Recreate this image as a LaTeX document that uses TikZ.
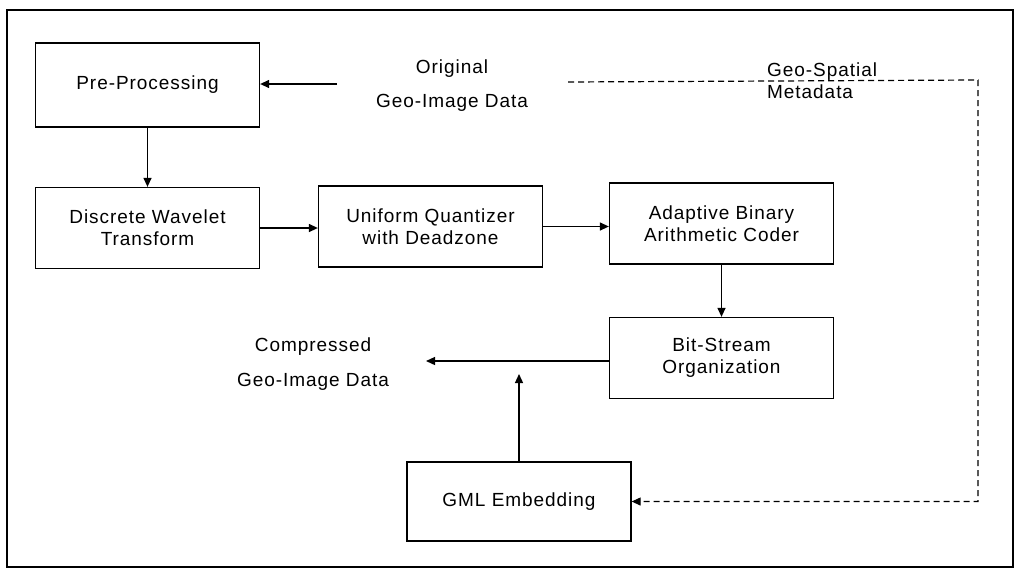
\documentclass[tikz,border=0pt]{standalone}
\usepackage{fontspec}
\setmainfont{Liberation Sans}[LetterSpace=5]
\usetikzlibrary{arrows.meta}
\begin{document}
\begin{tikzpicture}[x=1pt, y=-1pt,
  font=\fontsize{19}{22}\selectfont,
  box/.style={draw, line width=1.3pt, minimum width=224pt, minimum height=81pt,
              align=center, inner sep=0pt},
  lbl/.style={align=center, inner sep=0pt},
  arr/.style={line width=1.3pt, -{Triangle[length=9pt,width=8pt]}},
  meta/.style={line width=1.2pt, dash pattern=on 6pt off 4pt,
               -{Triangle[length=9pt,width=8pt]}}]
  \useasboundingbox (0,0) rectangle (1016,574);
  % outer frame
  \draw[line width=1.3pt] (7,10) rectangle (1013,567);

  % processing blocks
  \node[box, minimum height=84pt] (pre)  at (147.5,85)    {Pre-Processing};
  \node[box] (dwt)  at (147.5,228)   {Discrete Wavelet\\Transform};
  \node[box] (uq)   at (430.5,226.5) {Uniform Quantizer\\with Deadzone};
  \node[box] (abac) at (721.5,223.5) {Adaptive Binary\\Arithmetic Coder};
  \node[box] (bs)   at (721.5,358)   {Bit-Stream\\Organization};
  \node[box, minimum height=79pt] (gml) at (519,501.5) {GML Embedding};

  % free labels
  \node[lbl] (orig) at (452,86)    {Original\\[12pt]Geo-Image Data};
  \node[lbl] (comp) at (313,364.5) {Compressed\\[13pt]Geo-Image Data};
  \node[lbl, align=left, anchor=west] (geo) at (767,81) {Geo-Spatial\\Metadata};

  % free connector ends
  \coordinate (origout)    at (337,84);
  \coordinate (metaout)    at (568,82);
  \coordinate (metacorner) at (978,80);
  \coordinate (compin)     at (426,361);
  \coordinate (gmlup)      at (519,374);

  % data flow
  \draw[arr] (origout) -- (pre.east |- origout);
  \draw[arr] (pre.south) -- (dwt.north);
  \draw[arr] (dwt.east) -- (dwt.east -| uq.west);
  \draw[arr] (uq.east) -- (uq.east -| abac.west);
  \draw[arr] (abac.south) -- (bs.north);
  \draw[arr] (bs.west |- compin) -- (compin);
  \draw[arr] (gml.north) -- (gmlup);

  % metadata path
  \draw[meta] (metaout) -- (metacorner) |- (gml.east);
\end{tikzpicture}
\end{document}
